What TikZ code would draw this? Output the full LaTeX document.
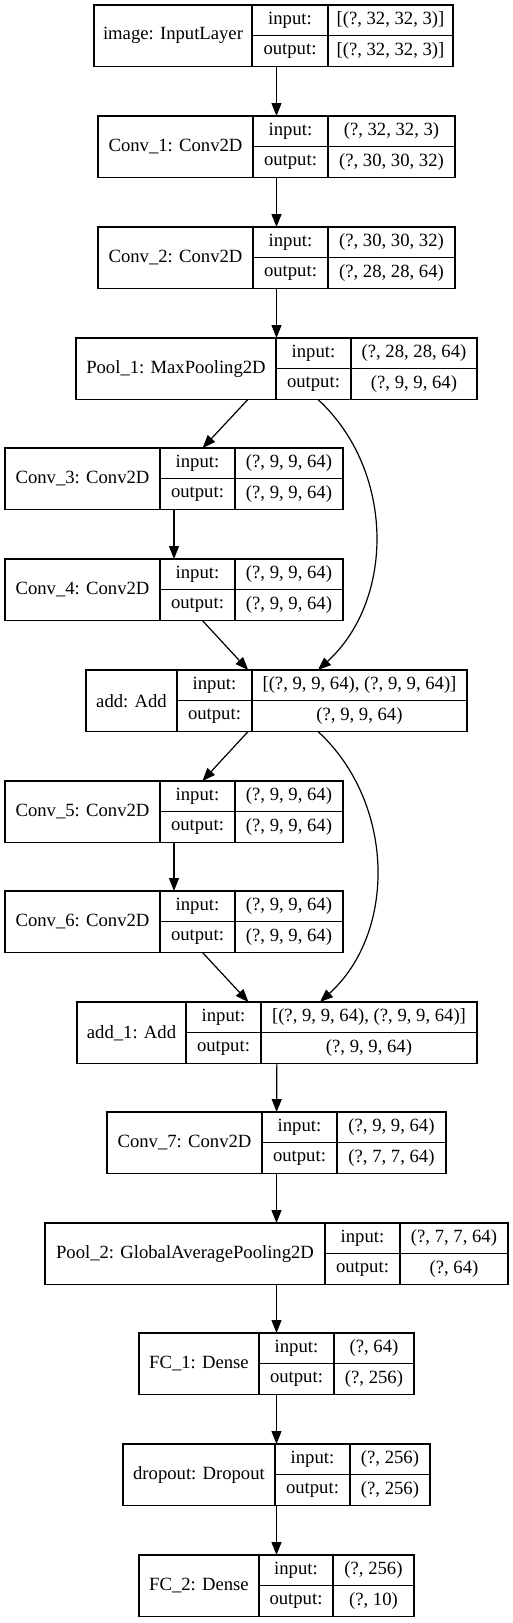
\documentclass[tikz,border=0pt]{standalone}
\usepackage{fontspec}
\setmainfont{Liberation Serif}
\usepackage{tikz}
\usetikzlibrary{arrows.meta}

% id, x left, x split 1, x split 2, x right, y top, name, input, output
\newcommand{\layer}[9]{
    \node[layerbox,minimum width={#5pt-#2pt}] (#1) at ({(#2+#5)/2},{#6+30.75}) {};
    \draw[layerline] ({#3},{#6}) -- ++(0,61.5);
    \draw[layerline] ({#4},{#6}) -- ++(0,61.5);
    \draw[layerline] ({#3},{#6+30.75}) -- ({#5},{#6+30.75});
    \node[txt] (#1-name) at ({(#2+#3)/2},{#6+30.75}) {#7};
    \node[txt] (#1-inl) at ({(#3+#4)/2},{#6+15.4}) {input:};
    \node[txt] (#1-inv) at ({(#4+#5)/2},{#6+15.4}) {#8};
    \node[txt] (#1-outl) at ({(#3+#4)/2},{#6+46.1}) {output:};
    \node[txt] (#1-outv) at ({(#4+#5)/2},{#6+46.1}) {#9};
}

\begin{document}
\begin{tikzpicture}[x=1pt,y=-1pt,
    layerbox/.style={draw,line width=1.2pt,rectangle,minimum height=61.5pt,inner sep=0pt,outer sep=0pt},
    layerline/.style={line width=1.2pt},
    txt/.style={inner sep=0pt,font=\fontsize{18.67}{22}\selectfont},
    edge/.style={line width=1.2pt,-{Triangle[length=13pt,width=10pt]}}]
    \useasboundingbox (0,0) rectangle (513,1623);
    \layer{img}{94}{252}{328}{453}{5}{image: InputLayer}{[(?, 32, 32, 3)]}{[(?, 32, 32, 3)]}
    \layer{conv1}{98}{253}{328}{455}{116}{Conv\_1: Conv2D}{(?, 32, 32, 3)}{(?, 30, 30, 32)}
    \layer{conv2}{98}{253}{328}{455}{227}{Conv\_2: Conv2D}{(?, 30, 30, 32)}{(?, 28, 28, 64)}
    \layer{pool1}{76}{276}{351}{477}{338}{Pool\_1: MaxPooling2D}{(?, 28, 28, 64)}{(?, 9, 9, 64)}
    \layer{conv3}{5}{160}{235}{343}{448}{Conv\_3: Conv2D}{(?, 9, 9, 64)}{(?, 9, 9, 64)}
    \layer{conv4}{5}{160}{235}{343}{559}{Conv\_4: Conv2D}{(?, 9, 9, 64)}{(?, 9, 9, 64)}
    \layer{add}{86}{177}{252}{467}{670}{add: Add}{[(?, 9, 9, 64), (?, 9, 9, 64)]}{(?, 9, 9, 64)}
    \layer{conv5}{5}{160}{235}{343}{781}{Conv\_5: Conv2D}{(?, 9, 9, 64)}{(?, 9, 9, 64)}
    \layer{conv6}{5}{160}{235}{343}{891}{Conv\_6: Conv2D}{(?, 9, 9, 64)}{(?, 9, 9, 64)}
    \layer{add1}{77}{186}{261}{477}{1002}{add\_1: Add}{[(?, 9, 9, 64), (?, 9, 9, 64)]}{(?, 9, 9, 64)}
    \layer{conv7}{107}{262}{337}{446}{1112}{Conv\_7: Conv2D}{(?, 9, 9, 64)}{(?, 7, 7, 64)}
    \layer{pool2}{45}{325}{400}{508}{1223}{Pool\_2: GlobalAveragePooling2D}{(?, 7, 7, 64)}{(?, 64)}
    \layer{fc1}{139}{259}{334}{414}{1333}{FC\_1: Dense}{(?, 64)}{(?, 256)}
    \layer{drop}{123}{275}{350}{430}{1444}{dropout: Dropout}{(?, 256)}{(?, 256)}
    \layer{fc2}{139}{259}{333}{414}{1555}{FC\_2: Dense}{(?, 256)}{(?, 10)}
    \draw[edge] (img.south -| conv1.north) -- (conv1.north);
    \draw[edge] (conv1) -- (conv2);
    \draw[edge] (conv2) -- (pool1);
    \draw[edge] (pool1) -- (conv3);
    \draw[edge] (conv3) -- (conv4);
    \draw[edge] (conv4) -- (add);
    \draw[edge] ([xshift=41.5pt]pool1.south) .. controls +(77,71) and +(77,-70) .. ([xshift=41.5pt]add.north);
    \draw[edge] (add) -- (conv5);
    \draw[edge] (conv5) -- (conv6);
    \draw[edge] (conv6) -- (add1);
    \draw[edge] ([xshift=41.5pt]add.south) .. controls +(77,71) and +(77,-70) .. ([xshift=43pt]add1.north);
    \draw[edge] (add1) -- (conv7);
    \draw[edge] (conv7) -- (pool2);
    \draw[edge] (pool2) -- (fc1);
    \draw[edge] (fc1) -- (drop);
    \draw[edge] (drop) -- (fc2);
\end{tikzpicture}
\end{document}
